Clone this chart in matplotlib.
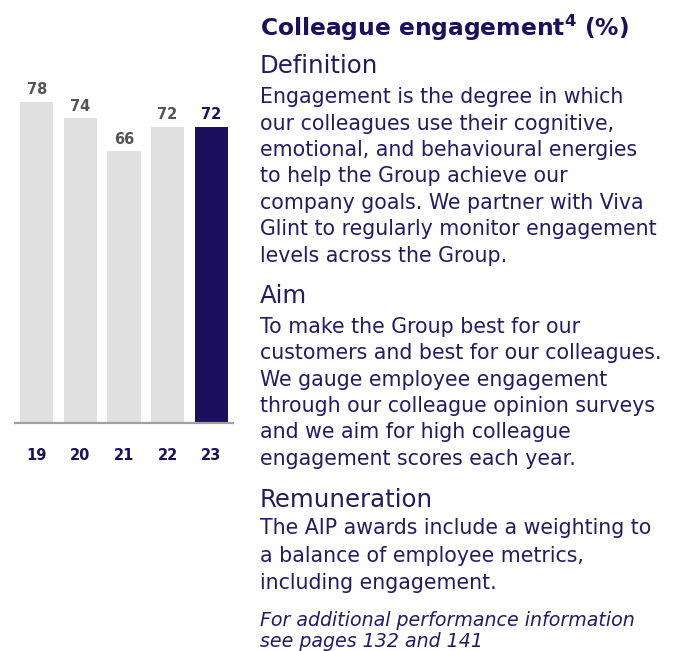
import matplotlib
matplotlib.use("Agg")
import matplotlib.pyplot as plt

years = ["19", "20", "21", "22", "23"]
values = [78, 74, 66, 72, 72]
bar_colors = ["#e0e0e0", "#e0e0e0", "#e0e0e0", "#e0e0e0", "#1b0f5e"]
label_colors = ["#555555", "#555555", "#555555", "#555555", "#1b0f5e"]

title = "Colleague engagement$^{\\mathbf{4}}$ (%)"
sections = [
    ("Definition", ["Engagement is the degree in which",
                    "our colleagues use their cognitive,",
                    "emotional, and behavioural energies",
                    "to help the Group achieve our",
                    "company goals. We partner with Viva",
                    "Glint to regularly monitor engagement",
                    "levels across the Group."]),
    ("Aim", ["To make the Group best for our",
             "customers and best for our colleagues.",
             "We gauge employee engagement",
             "through our colleague opinion surveys",
             "and we aim for high colleague",
             "engagement scores each year."]),
    ("Remuneration", ["The AIP awards include a weighting to",
                      "a balance of employee metrics,",
                      "including engagement."]),
]
footer = ["For additional performance information", "see pages 132 and 141"]

NAVY = "#1b0f5e"
TEXT = "#231b63"
W, H = 675, 651
fig = plt.figure(figsize=(W / 100, H / 100), dpi=100)
plt.rcParams['font.family'] = ['DejaVu Sans']

# axes in pixel coords: left 15, right 233, bottom 423, top 60
ax = fig.add_axes([15 / W, (H - 423) / H, 218 / W, (423 - 60) / H])
x = list(range(len(years)))
ax.bar(x, values, width=0.76, color=bar_colors, zorder=2)
ax.set_xlim(-0.5, 4.5)
ax.set_ylim(0, (423 - 60) / 4.115)
for i, v in enumerate(values):
    ax.annotate(str(v), (i, v), xytext=(0, 3.5), textcoords="offset points",
                ha="center", va="bottom", fontsize=10.5, fontweight="bold",
                color=label_colors[i])
for s in ["top", "right", "left"]:
    ax.spines[s].set_visible(False)
ax.spines["bottom"].set_color("#a0a0a0")
ax.spines["bottom"].set_linewidth(1.6)
ax.set_yticks([])
ax.set_xticks(x)
ax.set_xticklabels(years, fontsize=10.5, fontweight="bold", color=NAVY)
ax.tick_params(axis="x", length=0, pad=18)


def px(xp, yp):
    return xp / W, 1 - yp / H


tx = 260
fig.text(*px(tx, 36), title, fontsize=16.8, fontweight="bold", color=NAVY,
         va="baseline", ha="left")

heading_y = [73, 303, 507]
body_y = [
    [103, 129.5, 156, 182.5, 209, 235.5, 262],
    [333, 359, 385.5, 412, 438, 465],
    [534, 561.5, 589],
]
for (head, lines), hy, bys in zip(sections, heading_y, body_y):
    fig.text(*px(tx, hy), head, fontsize=17.6, color=TEXT, va="baseline", ha="left")
    for ln, by in zip(lines, bys):
        fig.text(*px(tx, by), ln, fontsize=14.8, color=TEXT, va="baseline", ha="left")

for ln, by in zip(footer, [626, 647]):
    fig.text(*px(tx, by), ln, fontsize=13.7, style="italic", color=TEXT,
             va="baseline", ha="left")

fig.savefig("out.png", dpi=100)
